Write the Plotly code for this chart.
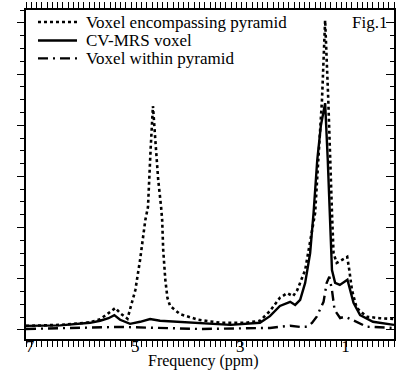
import plotly.graph_objects as go

# ---- data (frequency in ppm, intensity in arbitrary units) ----
enc_ppm = [7.00, 6.35, 5.78, 5.59, 5.43, 5.30, 5.21, 5.07, 4.92, 4.83, 4.73, 4.68, 4.63, 4.585,
           4.54, 4.485, 4.43, 4.41, 4.39, 4.35, 4.31, 4.26, 4.07, 3.72, 3.30, 2.83, 2.55, 2.36,
           2.17, 2.03, 1.92, 1.84, 1.69, 1.595, 1.50, 1.44, 1.37, 1.31, 1.25, 1.18, 1.15, 1.09,
           0.99, 0.89, 0.85, 0.80, 0.71, 0.52, 0.27, 0.00]
enc_val = [0.08, 0.10, 0.15, 0.21, 0.33, 0.43, 0.33, 0.22, 0.78, 1.37, 2.15, 2.40, 3.52, 4.375,
           3.71, 2.93, 2.40, 2.15, 1.56, 0.98, 0.63, 0.47, 0.31, 0.20, 0.14, 0.14, 0.18, 0.37,
           0.63, 0.72, 0.66, 0.78, 1.17, 1.76, 2.29, 3.32, 4.49, 6.05, 4.49, 2.29, 1.50, 1.31,
           1.37, 1.43, 1.17, 0.78, 0.43, 0.26, 0.23, 0.215]

cv_ppm = [7.00, 6.35, 5.78, 5.59, 5.43, 5.32, 5.21, 5.02, 4.83, 4.64, 4.45, 4.07, 3.68, 3.11,
          2.55, 2.36, 2.17, 1.975, 1.88, 1.785, 1.69, 1.595, 1.53, 1.46, 1.39, 1.31, 1.26, 1.22,
          1.18, 1.12, 1.03, 0.886, 0.85, 0.77, 0.645, 0.40, 0.00]
cv_val = [0.08, 0.09, 0.14, 0.18, 0.23, 0.29, 0.20, 0.12, 0.16, 0.215, 0.18, 0.16, 0.14, 0.10,
          0.14, 0.27, 0.47, 0.55, 0.49, 0.59, 0.92, 1.50, 2.29, 3.32, 4.00, 4.43, 3.32, 2.29,
          1.17, 0.92, 0.88, 0.98, 0.84, 0.53, 0.29, 0.16, 0.10]

within_ppm = [7.00, 5.21, 3.68, 2.36, 1.975, 1.785, 1.65, 1.56, 1.47, 1.405, 1.34, 1.28, 1.23,
              1.18, 1.13, 1.025, 0.93, 0.83, 0.71, 0.52, 0.00]
within_val = [0.02, 0.06, 0.02, 0.04, 0.084, 0.06, 0.064, 0.137, 0.26, 0.39, 0.55, 0.92, 1.04,
              0.78, 0.39, 0.234, 0.26, 0.215, 0.16, 0.064, 0.04]

series_names = ["Voxel encompassing pyramid", "CV-MRS voxel", "Voxel within pyramid"]
x_tick_vals = [7, 6, 5, 4, 3, 2, 1, 0]
x_tick_text = ["7", "", "5", "", "3", "", "1", ""]

FONT = "Liberation Serif, Times New Roman, serif"
styles = [dict(color="black", width=2.6, dash="dot"),
          dict(color="black", width=2.4, dash="solid"),
          dict(color="black", width=2.4, dash="10px,5px,2px,5px")]

fig = go.Figure()
for xs, ys, nm, st in zip([enc_ppm, cv_ppm, within_ppm], [enc_val, cv_val, within_val],
                          series_names, styles):
    fig.add_trace(go.Scatter(x=xs, y=ys, mode="lines", name=nm, line=st, showlegend=False))
# invisible helper trace so the right-hand (inside-tick) axis is drawn
fig.add_trace(go.Scatter(x=[within_ppm[0]], y=[within_val[0]], yaxis="y2", mode="lines",
                         showlegend=False, hoverinfo="skip", opacity=0))

# hand-built legend (paper coordinates) to match the compact row spacing of the original
leg_rows = [0.9635, 0.9073, 0.8530]
shapes, annotations = [], []
for yy, nm, st in zip(leg_rows, series_names, styles):
    shapes.append(dict(type="line", xref="paper", yref="paper", x0=0.0326, x1=0.1386,
                       y0=yy, y1=yy, line=st))
    annotations.append(dict(text=nm, xref="paper", yref="paper", x=0.1576, y=yy,
                            xanchor="left", yanchor="middle", showarrow=False,
                            font=dict(family=FONT, size=17)))
annotations += [
    dict(text="Frequency (ppm)", xref="paper", yref="paper", x=0.481, y=-0.066,
         xanchor="center", yanchor="middle", showarrow=False, font=dict(family=FONT, size=16)),
    dict(text="Fig.1", xref="paper", yref="paper", x=0.986, y=0.963,
         xanchor="right", yanchor="middle", showarrow=False, font=dict(family=FONT, size=17)),
]

yr = [-0.176, 6.25]
fig.update_layout(
    width=406, height=371,
    margin=dict(l=26, r=12, t=10, b=32, autoexpand=False),
    paper_bgcolor="white", plot_bgcolor="white",
    font=dict(family=FONT, size=17, color="black"),
    showlegend=False,
    xaxis=dict(range=[7, 0], tickmode="array", tickvals=x_tick_vals, ticktext=x_tick_text,
               ticks="outside", ticklen=6, tickwidth=1, tickcolor="black",
               minor=dict(tickmode="linear", tick0=0, dtick=0.1, ticks="outside", ticklen=3,
                          tickcolor="black"),
               showline=True, linecolor="black", linewidth=1.5, mirror="allticks",
               showgrid=False, zeroline=False, automargin=False, ticklabelstandoff=-15,
               ticklabelshift=-4, tickfont=dict(family=FONT, size=17)),
    yaxis=dict(range=yr, tickmode="linear", tick0=0, dtick=1, ticks="outside", ticklen=7,
               tickcolor="black",
               minor=dict(tickmode="linear", tick0=0, dtick=0.25, ticks="outside", ticklen=4,
                          tickcolor="black"),
               showline=True, linecolor="black", linewidth=1.5, mirror=True,
               showgrid=False, zeroline=False, showticklabels=False, automargin=False),
    yaxis2=dict(range=yr, overlaying="y", side="right", anchor="x", tickmode="linear",
                tick0=0, dtick=1, ticks="inside", ticklen=8, tickcolor="black",
                minor=dict(tickmode="linear", tick0=0, dtick=0.25, ticks="inside", ticklen=4,
                           tickcolor="black"),
                showline=False, showgrid=False, zeroline=False, showticklabels=False,
                automargin=False),
    shapes=shapes,
    annotations=annotations,
)

# remove the browser's default 8px page margin so the figure sits at the window origin
fig.write_html("out.html", config={"displayModeBar": False},
               post_script="document.body.style.margin='0';")
